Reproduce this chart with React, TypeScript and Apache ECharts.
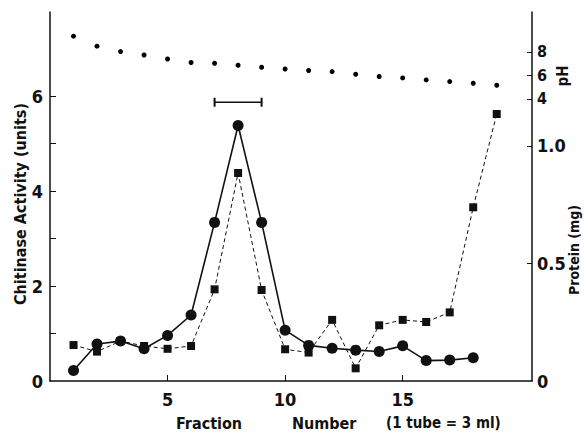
import React, { useEffect, useRef } from "react";
import * as echarts from "echarts";

const fractions = [1, 2, 3, 4, 5, 6, 7, 8, 9, 10, 11, 12, 13, 14, 15, 16, 17, 18, 19];
const activity = [0.22, 0.78, 0.84, 0.68, 0.96, 1.39, 3.34, 5.38, 3.34, 1.07, 0.75, 0.69, 0.65, 0.62, 0.74, 0.43, 0.44, 0.49];
const protein = [0.153, 0.125, 0.17, 0.149, 0.137, 0.149, 0.39, 0.885, 0.387, 0.135, 0.121, 0.26, 0.054, 0.237, 0.26, 0.251, 0.292, 0.739, 1.136];
const pH = [9.34, 8.49, 8.03, 7.74, 7.4, 7.1, 7.04, 6.87, 6.7, 6.55, 6.42, 6.33, 6.1, 5.91, 5.79, 5.62, 5.48, 5.34, 5.17];
const xTicks = [5, 10, 15];
const activityTicks = [0, 2, 4, 6];
const activityMinorTicks = [1, 2, 3, 4, 5, 6];
const proteinTicks = [0, 0.5, 1.0];
const pHTicks = [4, 6, 8];
const pooled = [7, 9];
const pooledLevel = 5.87;

const FONT = "'Liberation Sans Narrow', 'DejaVu Sans Condensed', 'Roboto', sans-serif";

export default function App() {
  const ref = useRef<HTMLDivElement>(null);
  useEffect(() => {
    document.body.style.margin = "0";
    const chart = echarts.init(ref.current!, null, { renderer: "svg" });
    const black = "#111";
    const lblStyle = { color: black, fontFamily: FONT, fontSize: 18, fontWeight: "bold" as const };
    chart.setOption({
      animation: false,
      backgroundColor: "#fff",
      grid: { left: 50, right: 52, top: 12, bottom: 53, containLabel: false, outerBoundsMode: "none" },
      xAxis: {
        type: "value",
        min: 0,
        max: 20.5,
        interval: 5,
        axisLine: { show: true, lineStyle: { color: black, width: 1.5 } },
        axisTick: { show: true, inside: true, length: 6, lineStyle: { color: black }, customValues: xTicks },
        axisLabel: { ...lblStyle, margin: 9, customValues: xTicks },
        splitLine: { show: false },
      },
      yAxis: [
        {
          type: "value",
          position: "left",
          min: 0,
          max: 7.77,
          interval: 1,
          axisLine: { show: true, lineStyle: { color: black, width: 1.5 } },
          axisTick: { show: true, inside: true, length: 6, lineStyle: { color: black }, customValues: activityMinorTicks },
          axisLabel: { ...lblStyle, margin: 7, customValues: activityTicks },
          splitLine: { show: false },
        },
        {
          type: "value",
          position: "right",
          min: 0,
          max: 1.57,
          axisLine: { show: true, lineStyle: { color: black, width: 1.5 } },
          axisTick: { show: true, inside: true, length: 5, lineStyle: { color: black }, customValues: [0.5, 1.0] },
          axisLabel: {
            ...lblStyle,
            margin: 5,
            customValues: proteinTicks,
            formatter: (v: number) => (v === 0 ? "0" : v.toFixed(1)),
          },
          splitLine: { show: false },
        },
        {
          type: "value",
          position: "right",
          min: -20,
          max: 11.4,
          interval: 2,
          axisLine: { show: false },
          axisTick: { show: true, inside: true, length: 5, lineStyle: { color: black }, customValues: pHTicks },
          axisLabel: { ...lblStyle, fontSize: 16, margin: 5, customValues: pHTicks },
          splitLine: { show: false },
        },
      ],
      graphic: [
        {
          type: "text",
          x: 20,
          y: 204,
          rotation: Math.PI / 2,
          style: {
            text: "Chitinase Activity (units)",
            fill: black,
            font: `bold 16px ${FONT}`,
            align: "center",
            verticalAlign: "middle",
          },
        },
        {
          type: "text",
          x: 563,
          y: 76,
          rotation: Math.PI / 2,
          style: { text: "pH", fill: black, font: `bold 15px ${FONT}`, align: "center", verticalAlign: "middle" },
        },
        {
          type: "text",
          x: 574,
          y: 250,
          rotation: Math.PI / 2,
          style: { text: "Protein (mg)", fill: black, font: `bold 14px ${FONT}`, align: "center", verticalAlign: "middle" },
        },
        {
          type: "text",
          x: 176,
          y: 423,
          style: { text: "Fraction", fill: black, font: `bold 16px ${FONT}`, align: "left", verticalAlign: "middle" },
        },
        {
          type: "text",
          x: 292,
          y: 423,
          style: { text: "Number", fill: black, font: `bold 16px ${FONT}`, align: "left", verticalAlign: "middle" },
        },
        {
          type: "text",
          x: 386,
          y: 423,
          style: { text: "(1 tube = 3 ml)", fill: black, font: `bold 15px ${FONT}`, align: "left", verticalAlign: "middle" },
        },
      ],
      series: [
        {
          type: "line",
          yAxisIndex: 1,
          data: protein.map((v, i) => [fractions[i], v]),
          symbol: "rect",
          symbolSize: 8,
          lineStyle: { color: black, width: 1, type: [4, 3] },
          itemStyle: { color: black },
          z: 2,
        },
        {
          type: "line",
          yAxisIndex: 0,
          data: activity.map((v, i) => [fractions[i], v]),
          symbol: "circle",
          symbolSize: 11,
          lineStyle: { color: black, width: 1.6 },
          itemStyle: { color: black },
          z: 3,
        },
        {
          type: "scatter",
          yAxisIndex: 2,
          data: pH.map((v, i) => [fractions[i], v]),
          symbol: "circle",
          symbolSize: 5,
          itemStyle: { color: "#000", opacity: 1 },
        },
        {
          type: "line",
          yAxisIndex: 0,
          data: pooled.map((f) => [f, pooledLevel]),
          symbol: "rect",
          symbolSize: [2, 9],
          lineStyle: { color: black, width: 1.5 },
          itemStyle: { color: black },
        },
      ],
    });
    return () => chart.dispose();
  }, []);
  return <div ref={ref} style={{ width: 584, height: 434 }} />;
}
